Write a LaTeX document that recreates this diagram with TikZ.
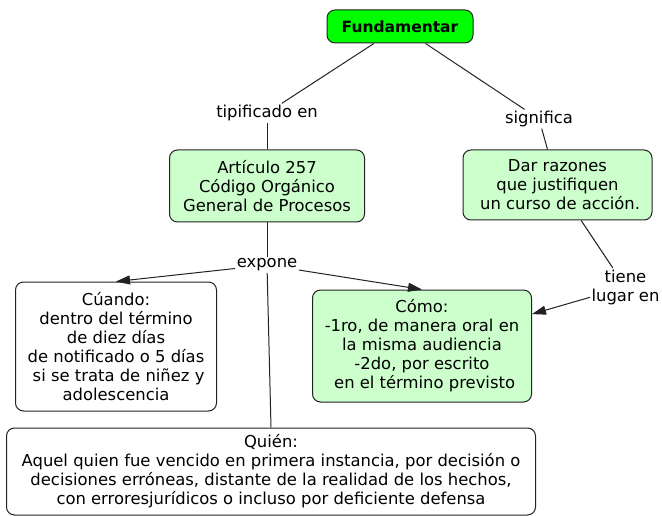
\documentclass[tikz,border=0pt]{standalone}
\usepackage{fontspec}
\setmainfont{DejaVu Sans}
\usepackage{tikz}
\usetikzlibrary{positioning,arrows.meta}

\definecolor{rootgreen}{HTML}{00FF00}
\definecolor{palegreen}{HTML}{CCFFCC}
\definecolor{edgegray}{HTML}{222222}

\tikzset{
  concept/.style={draw=edgegray, line width=1pt, rounded corners=8pt,
    align=center, inner sep=0pt, font=\fontsize{16.4}{19}\selectfont},
  linkword/.style={align=center, inner sep=1.5pt,
    font=\fontsize{16.4}{19}\selectfont},
  link/.style={draw=edgegray, line width=1pt},
  arrowlink/.style={link, -{Triangle[length=14pt,width=9pt]}}
}

\begin{document}
\begin{tikzpicture}[on grid]
\useasboundingbox (0,0) rectangle (662pt,-516pt);
\node (fund) [concept, fill=rootgreen, minimum width=146pt, minimum height=33pt,
  font=\fontsize{15.5}{19}\selectfont\bfseries] at (400pt,-26.5pt) {Fundamentar};
\node (tip) [linkword, below left=86.5pt and 133pt of fund] {tipificado en};
\node (sig) [linkword, below right=92.5pt and 139pt of fund] {significa};
\node (art) [concept, fill=palegreen, minimum width=195pt, minimum height=72pt,
  below=73pt of tip] {Artículo 257\\Código Orgánico\\General de Procesos};
\node (dar) [concept, fill=palegreen, minimum width=189pt, minimum height=70pt,
  below right=66pt and 18.5pt of sig] {Dar razones\\que justifiquen\\\ un curso de acción.};
\node (exp) [linkword, below=79pt of art] {expone};
\node (tiene) [linkword, below right=102pt and 68pt of dar] {tiene\\lugar en};
\node (cuando) [concept, fill=white, minimum width=201pt, minimum height=129pt,
  below left=81.5pt and 151pt of exp]
  {Cúando:\\dentro del término\\de diez días\\de notificado o 5 días\\\ si se trata de niñez y\\adolescencia};
\node (como) [concept, fill=palegreen, minimum width=219pt, minimum height=112pt,
  below right=81pt and 155pt of exp]
  {Cómo:\\-1ro, de manera oral en\\la misma audiencia\\-2do, por escrito\\\ en el término previsto};
\node (quien) [concept, fill=white, minimum width=529pt, minimum height=87pt,
  below right=206.5pt and 4pt of exp]
  {Quién:\\Aquel quien fue vencido en primera instancia, por decisión o\\decisiones erróneas, distante de la realidad de los hechos,\\con erroresjurídicos o incluso por deficiente defensa};

\draw[link] (fund) -- (tip);
\draw[link] (tip) -- (art);
\draw[link] (fund) -- (sig);
\draw[link] (sig) -- (dar);
\draw[link] (art) -- (exp);
\draw[arrowlink] (exp) -- (cuando.north);
\draw[arrowlink] (exp) -- (como.north);
\draw[link] (exp) -- (quien.north);
\draw[link] (dar) -- (tiene);
\draw[arrowlink] (tiene) -- (como);
\end{tikzpicture}
\end{document}
